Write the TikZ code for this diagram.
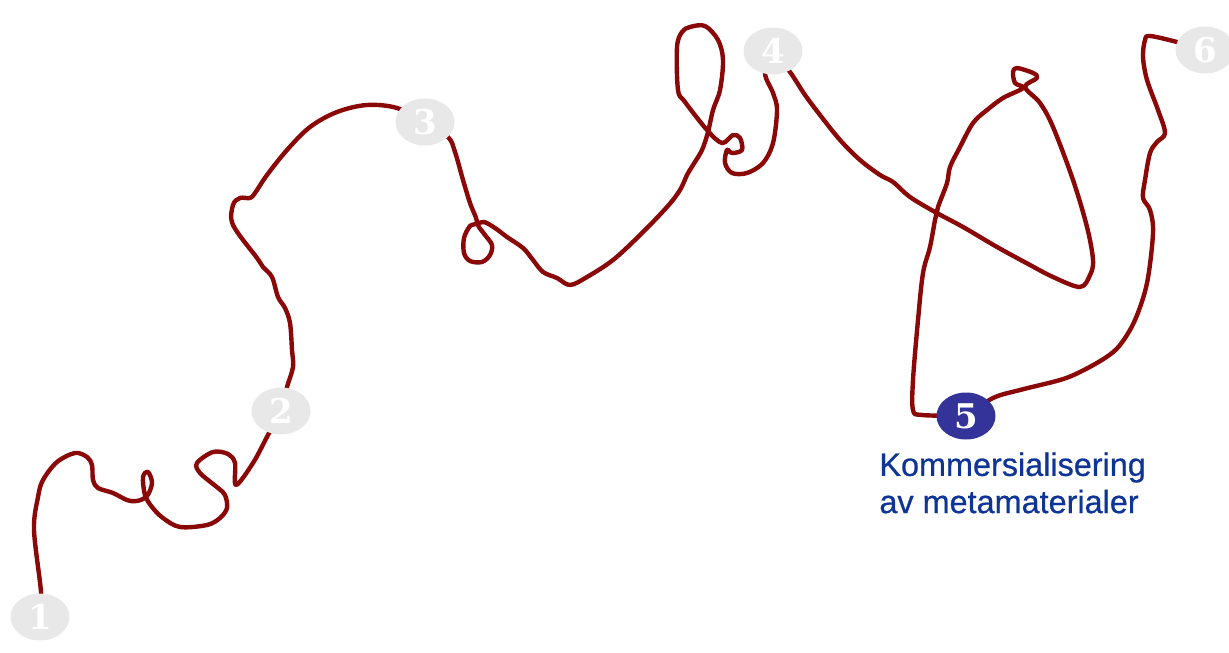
\documentclass[tikz,border=0pt]{standalone}
\usepackage{fontspec}
\setmainfont{Liberation Sans}
\newfontfamily\digitfont{DejaVu Serif}
\newfontfamily\labelfont[FakeBold=0.6]{Liberation Sans}
\usetikzlibrary{shapes.geometric, backgrounds}
\definecolor{routered}{RGB}{139,8,8}
\definecolor{stepgray}{RGB}{232,232,232}
\definecolor{stepblue}{RGB}{51,51,153}
\definecolor{labelblue}{RGB}{14,52,152}

\begin{document}
\begin{tikzpicture}[x=0.5pt, y=-0.5pt,
  stepmark/.style={ellipse, fill=stepgray, text=white, inner sep=0pt,
    minimum width=29.5pt, minimum height=23.5pt,
    font=\digitfont\bfseries\fontsize{17}{17}\selectfont},
  route/.style={draw=routered, line width=2.2pt, line join=round, line cap=round}]
  \useasboundingbox (0,0) rectangle (1229,652);

  \foreach \n/\xv/\yv in {1/40/617, 2/281/411, 3/425/122, 4/773/51, 6/1205/50} {
    \node[stepmark] (m\n) at (\xv,\yv) {\n};
  }
  \node[stepmark, fill=stepblue] (m5) at (966,416) {5};
  \node[anchor=north west, inner sep=0pt, align=left, text=labelblue,
    font=\labelfont\fontsize{16.2}{18.6}\selectfont] (lbl) at (879,452)
    {Kommersialisering\\av metamaterialer};

  \begin{scope}[on background layer]
    \draw[route] plot[smooth, tension=0.55] coordinates {(m1) (41,592) (34,530)
      (38,497) (43,480) (57,462) (75,453) (87,457) (92,465) (93,480) (98,488)
      (113,493) (127,500) (137,501) (147,496) (152,483) (148,472) (143,477)
      (145,495) (152,507) (163,518) (180,527) (207,525) (220,518) (227,508)
      (225,495) (218,488) (200,473) (197,463) (213,452) (228,454) (235,463)
      (236,485) (253,463) (268,435) (m2)};
    \draw[route] plot[smooth, tension=0.55] coordinates {(m2) (287,387) (293,367)
      (292,350) (290,323) (285,308) (278,297) (272,277) (263,267) (257,258)
      (233,225) (233,205) (240,198) (250,198) (255,193) (267,175) (287,150)
      (310,127) (337,112) (367,105) (397,108) (m3)};
    \draw[route] plot[smooth, tension=0.55] coordinates {(m3) (448,137) (455,152)
      (463,180) (470,203) (477,222) (470,226) (464,238) (464,253) (470,261)
      (482,262) (490,255) (492,245) (485,235) (478,225) (484,222) (495,228)
      (507,237) (523,248) (533,260) (543,272) (557,278) (570,285) (587,277)
      (613,260) (640,235) (667,207) (680,190) (687,175) (693,165) (702,150)
      (708,132) (713,110) (720,90) (723,60) (718,40) (705,26) (690,27) (682,32)
      (677,47) (678,90) (685,102) (707,130) (722,143) (733,135) (740,138)
      (742,150) (732,153) (727,150) (725,163) (732,173) (747,173) (763,163)
      (773,143) (777,110) (773,93) (765,73) (m4)};
    \draw[route] plot[smooth, tension=0.55] coordinates {(m4) (790,72) (805,95)
      (820,115) (840,140) (860,160) (880,175) (893,182) (910,197) (935,212)
      (963,227) (997,247) (1030,265) (1053,277) (1080,287) (1090,275) (1093,260)
      (1087,227) (1073,180) (1053,127) (1040,103) (1025,87) (1037,78) (1033,73)
      (1017,68) (1013,72) (1015,83) (1023,88) (1003,98) (987,110) (973,123)
      (960,147) (950,167) (947,183) (938,207) (935,220) (930,247) (923,273)
      (918,320) (913,380) (913,410) (922,415) (m5)};
    \draw[route] plot[smooth, tension=0.55] coordinates {(m5) (993,398) (1020,390)
      (1060,380) (1080,372) (1105,358) (1120,345) (1135,320) (1147,283)
      (1153,233) (1150,210) (1143,198) (1145,180) (1150,153) (1157,142)
      (1165,133) (1158,110) (1147,80) (1143,57) (1145,40) (1150,36) (1177,42)
      (m6)};
  \end{scope}
\end{tikzpicture}
\end{document}
